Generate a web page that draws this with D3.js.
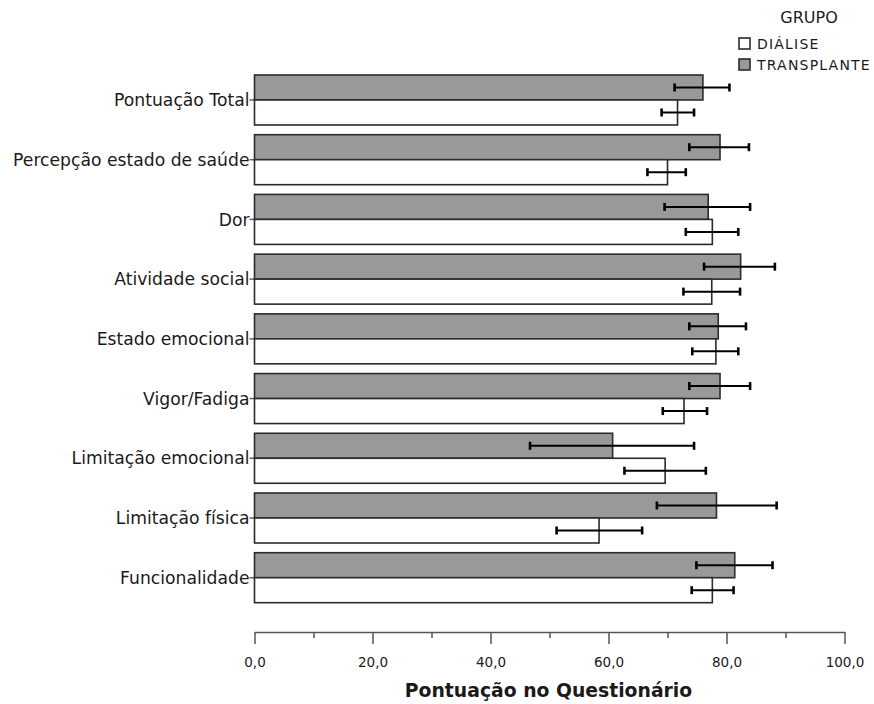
<!DOCTYPE html>
<html>
<head>
<meta charset="utf-8">
<script src="https://cdn.jsdelivr.net/npm/d3@7"></script>
<style>
  html, body { margin: 0; padding: 0; background: #fff; }
  svg { display: block; }
  text { font-family: "DejaVu Sans", sans-serif; fill: #1a1a1a; }
</style>
</head>
<body>
<svg id="chart" width="874" height="704"></svg>
<script>
// Quality-of-life domains, top to bottom
const categories = [
  "Pontuação Total",
  "Percepção estado de saúde",
  "Dor",
  "Atividade social",
  "Estado emocional",
  "Vigor/Fadiga",
  "Limitação emocional",
  "Limitação física",
  "Funcionalidade"
];

const groups = ["TRANSPLANTE", "DIÁLISE"];

// Mean scores and error-bar limits per group
const transplanteMean  = [76.0, 78.9, 76.9, 82.4, 78.6, 78.9, 60.7, 78.3, 81.4];
const transplanteLower = [71.2, 73.7, 69.5, 76.2, 73.7, 73.7, 46.7, 68.2, 74.9];
const transplanteUpper = [80.5, 83.8, 84.0, 88.2, 83.3, 84.0, 74.5, 88.5, 87.8];

const dialiseMean  = [71.7, 70.0, 77.6, 77.5, 78.2, 72.8, 69.6, 58.4, 77.6];
const dialiseLower = [69.0, 66.6, 73.1, 72.7, 74.2, 69.2, 62.7, 51.2, 74.1];
const dialiseUpper = [74.5, 73.1, 82.0, 82.3, 82.0, 76.7, 76.5, 65.7, 81.2];

const xTicks = [0, 20, 40, 60, 80, 100];
const xMinorTicks = [10, 30, 50, 70, 90];

const legendTitle = "GRUPO";
const legendItems = ["DIÁLISE", "TRANSPLANTE"];
const xTitle = "Pontuação no Questionário";

const fills = { "TRANSPLANTE": "#999999", "DIÁLISE": "#ffffff" };

const svg = d3.select("#chart");

const x = d3.scaleLinear().domain([0, 100]).range([254.5, 844.5]);
const y = d3.scaleBand().domain(categories).range([75, 602.7]).paddingInner(0.163).paddingOuter(0);
const ySub = d3.scaleBand().domain(groups).range([0, y.bandwidth()]);

const rows = categories.map((c, i) => ({
  cat: c,
  values: [
    { g: "TRANSPLANTE", m: transplanteMean[i], lo: transplanteLower[i], hi: transplanteUpper[i] },
    { g: "DIÁLISE", m: dialiseMean[i], lo: dialiseLower[i], hi: dialiseUpper[i] }
  ]
}));

// Category ticks and labels
const catG = svg.append("g");
catG.selectAll("line").data(categories).join("line")
  .attr("x1", x(0) - 5).attr("x2", x(0))
  .attr("y1", d => y(d) + y.bandwidth() / 2)
  .attr("y2", d => y(d) + y.bandwidth() / 2)
  .attr("stroke", "#666").attr("stroke-width", 1.5);
catG.selectAll("text").data(categories).join("text")
  .attr("x", x(0) - 5)
  .attr("y", d => y(d) + y.bandwidth() / 2)
  .attr("dy", "0.36em")
  .attr("text-anchor", "end")
  .style("font-size", "17.2px")
  .text(d => d);

// Bars
const rowG = svg.append("g").selectAll("g").data(rows).join("g")
  .attr("transform", d => `translate(0,${y(d.cat)})`);

rowG.selectAll("rect").data(d => d.values).join("rect")
  .attr("x", x(0))
  .attr("y", d => ySub(d.g))
  .attr("width", d => x(d.m) - x(0))
  .attr("height", ySub.bandwidth())
  .attr("fill", d => fills[d.g])
  .attr("stroke", "#2b2b2b")
  .attr("stroke-width", 1.6);

// Error bars
const eb = rowG.selectAll("g.err").data(d => d.values).join("g").attr("class", "err")
  .attr("transform", d => `translate(0,${ySub(d.g) + ySub.bandwidth() / 2})`);
eb.append("line")
  .attr("x1", d => x(d.lo)).attr("x2", d => x(d.hi))
  .attr("y1", 0).attr("y2", 0)
  .attr("stroke", "#000").attr("stroke-width", 2);
eb.append("line")
  .attr("x1", d => x(d.lo)).attr("x2", d => x(d.lo))
  .attr("y1", -4).attr("y2", 4)
  .attr("stroke", "#000").attr("stroke-width", 2.6);
eb.append("line")
  .attr("x1", d => x(d.hi)).attr("x2", d => x(d.hi))
  .attr("y1", -4).attr("y2", 4)
  .attr("stroke", "#000").attr("stroke-width", 2.6);

// X axis
const axisY = 632;
const ax = svg.append("g").attr("transform", `translate(0,${axisY})`)
  .call(d3.axisBottom(x).tickValues(xTicks).tickSize(12).tickSizeOuter(0)
    .tickFormat(d => d3.format(".1f")(d).replace(".", ",")));
ax.select(".domain").attr("stroke", "#555").attr("stroke-width", 1.5);
ax.selectAll(".tick line").attr("stroke", "#555").attr("stroke-width", 1.5);
ax.selectAll(".tick text")
  .attr("y", 25)
  .style("font-family", "'DejaVu Sans', sans-serif")
  .style("font-size", "13.5px").attr("fill", "#1a1a1a");
const minor = svg.append("g").attr("transform", `translate(0,${axisY})`)
  .call(d3.axisBottom(x).tickValues(xMinorTicks).tickSize(6).tickFormat(""));
minor.select(".domain").remove();
minor.selectAll(".tick line").attr("stroke", "#555").attr("stroke-width", 1.5);

svg.append("text")
  .attr("x", (x(0) + x(100)) / 2 - 1)
  .attr("y", 697)
  .attr("text-anchor", "middle")
  .style("font-size", "18.8px")
  .style("font-weight", "bold")
  .text(xTitle);

// Legend
const lg = svg.append("g");
lg.append("text").attr("x", 809).attr("y", 23).attr("text-anchor", "middle")
  .style("font-size", "16px").text(legendTitle);
const li = lg.selectAll("g").data(legendItems).join("g")
  .attr("transform", (d, i) => `translate(739,${38 + i * 21})`);
li.append("rect").attr("width", 11).attr("height", 11)
  .attr("fill", d => fills[d]).attr("stroke", "#2b2b2b").attr("stroke-width", 1.6);
li.append("text").attr("x", 18).attr("y", 10.5)
  .style("font-size", "14px").style("letter-spacing", "1.2px").text(d => d);
</script>
</body>
</html>
